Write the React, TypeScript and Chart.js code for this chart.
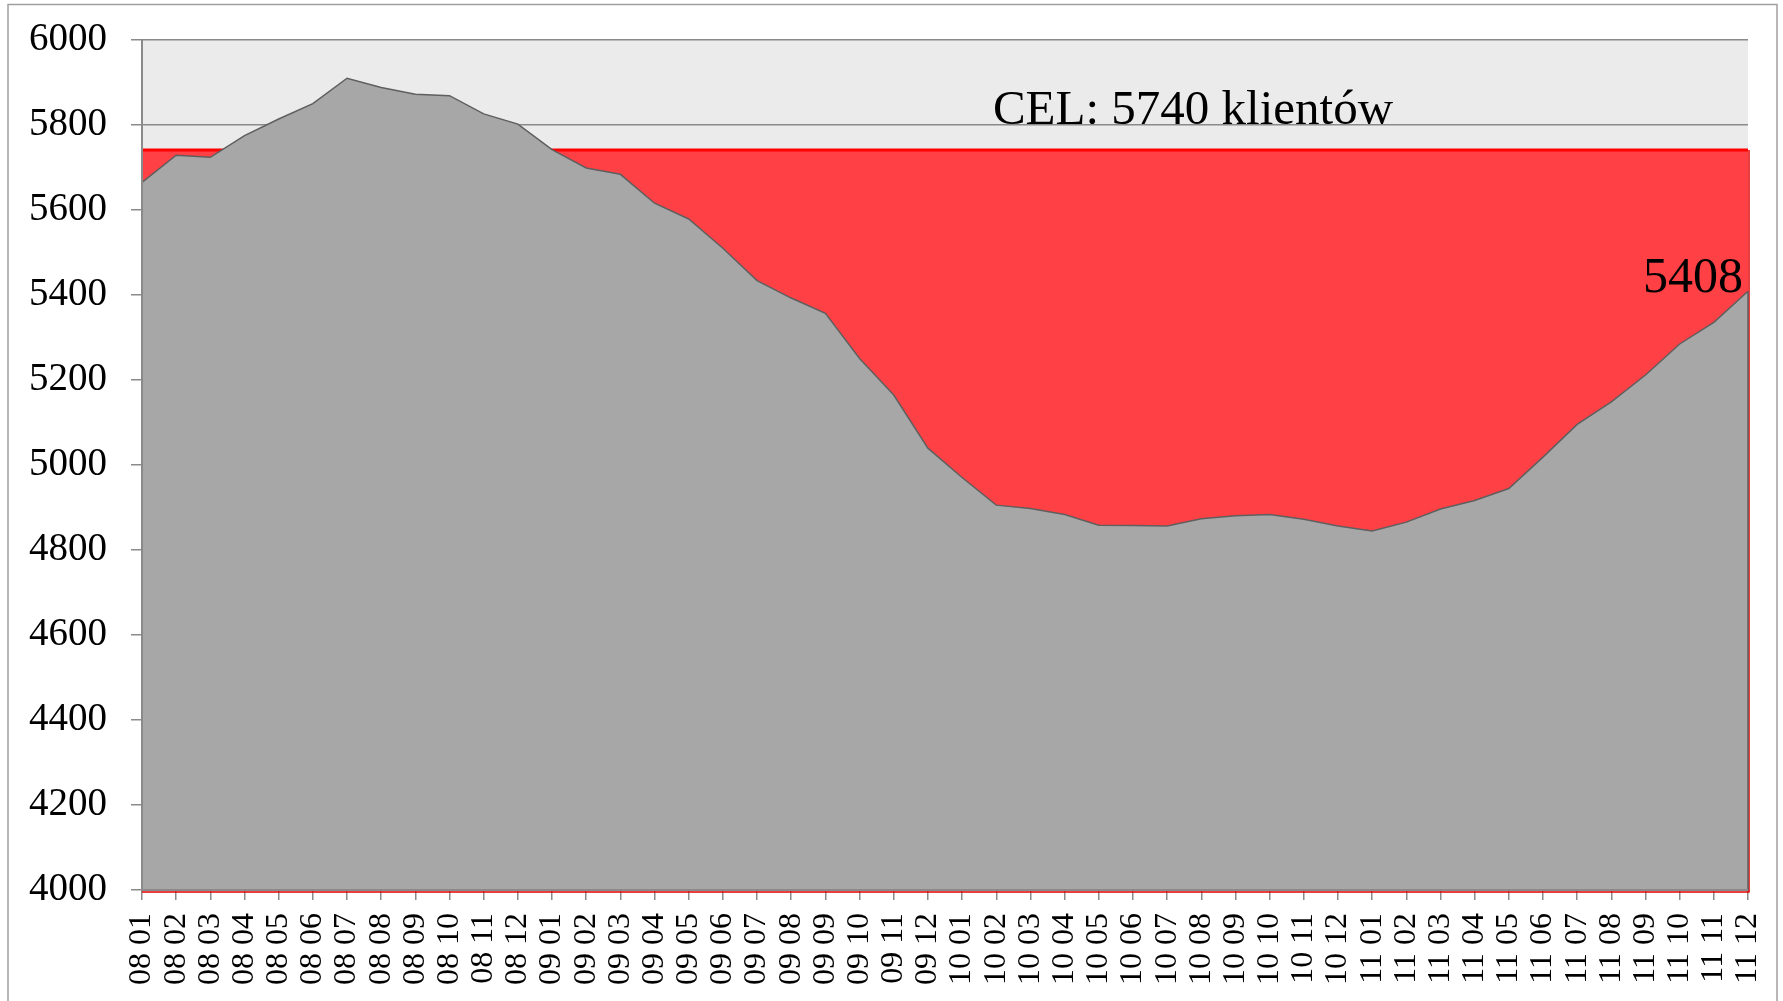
import React, { useEffect, useRef } from 'react';
import { Chart, registerables } from 'chart.js';

Chart.register(...registerables);

const categories: string[] = [
  '08 01', '08 02', '08 03', '08 04', '08 05', '08 06', '08 07', '08 08', '08 09', '08 10', '08 11', '08 12',
  '09 01', '09 02', '09 03', '09 04', '09 05', '09 06', '09 07', '09 08', '09 09', '09 10', '09 11', '09 12',
  '10 01', '10 02', '10 03', '10 04', '10 05', '10 06', '10 07', '10 08', '10 09', '10 10', '10 11', '10 12',
  '11 01', '11 02', '11 03', '11 04', '11 05', '11 06', '11 07', '11 08', '11 09', '11 10', '11 11', '11 12',
];

const clients: number[] = [
  5664, 5728, 5723, 5774, 5813, 5849, 5909, 5887, 5871, 5868, 5825, 5801,
  5741, 5698, 5683, 5615, 5578, 5509, 5433, 5392, 5356, 5250, 5164, 5039,
  4970, 4905, 4897, 4883, 4858, 4857, 4856, 4873, 4880, 4883, 4872, 4856,
  4844, 4865, 4896, 4916, 4944, 5018, 5095, 5148, 5211, 5284, 5335, 5408,
];

const TARGET = 5740;
const targetLine: number[] = categories.map(() => TARGET);

const Y_MIN = 4000;
const Y_MAX = 6000;
const Y_STEP = 200;

const targetText = `CEL: ${TARGET} klientów`;

const FONT = '"Liberation Serif", "DejaVu Serif", serif';

const decorPlugin = {
  id: 'decor',
  beforeDraw(chart: any) {
    const { ctx, chartArea } = chart;
    ctx.save();
    ctx.fillStyle = '#ffffff';
    ctx.fillRect(0, 0, chart.width, chart.height);
    ctx.strokeStyle = '#a0a0a0';
    ctx.lineWidth = 1.5;
    ctx.strokeRect(8, 4.5, chart.width - 14, chart.height + 10);
    ctx.fillStyle = '#ebebeb';
    ctx.fillRect(chartArea.left, chartArea.top, chartArea.right - chartArea.left, chartArea.bottom - chartArea.top);
    ctx.restore();
  },
  afterDatasetDraw(chart: any, args: any) {
    const { ctx, chartArea } = chart;
    const pts = args.meta.data;
    if (!pts || !pts.length) return;
    const last = pts[pts.length - 1];
    const bottom = chartArea.bottom;
    ctx.save();
    if (args.index === 1) {
      ctx.strokeStyle = '#e00000';
      ctx.lineWidth = 1.5;
      ctx.beginPath();
      ctx.moveTo(last.x + 1, last.y);
      ctx.lineTo(last.x + 1, bottom + 2);
      ctx.lineTo(pts[0].x, bottom + 2);
      ctx.stroke();
    } else {
      ctx.strokeStyle = '#5f5f5f';
      ctx.lineWidth = 1.5;
      ctx.beginPath();
      ctx.moveTo(last.x, last.y);
      ctx.lineTo(last.x, bottom);
      ctx.stroke();
    }
    ctx.restore();
  },
  afterDatasetsDraw(chart: any) {
    const { ctx, chartArea, scales } = chart;
    ctx.save();
    ctx.strokeStyle = '#8a8a8a';
    ctx.lineWidth = 2;
    ctx.beginPath();
    ctx.moveTo(chartArea.left, chartArea.top);
    ctx.lineTo(chartArea.left, chartArea.bottom);
    ctx.lineTo(chartArea.right, chartArea.bottom);
    ctx.stroke();

    ctx.fillStyle = '#000000';
    ctx.font = `49px ${FONT}`;
    ctx.textAlign = 'center';
    ctx.textBaseline = 'alphabetic';
    const tx = chartArea.left + 0.6544 * (chartArea.right - chartArea.left);
    ctx.fillText(targetText, tx, scales.y.getPixelForValue(5800) - 0.5);

    const meta = chart.getDatasetMeta(0);
    const lp = meta.data[meta.data.length - 1];
    ctx.font = `50px ${FONT}`;
    ctx.textAlign = 'right';
    ctx.fillText(String(clients[clients.length - 1]), lp.x - 5, lp.y + 1);
    ctx.restore();
  },
};

export default function App() {
  const canvasRef = useRef<HTMLCanvasElement | null>(null);

  useEffect(() => {
    document.body.style.margin = '0';
    document.body.style.overflow = 'hidden';
    const canvas = canvasRef.current;
    if (!canvas) return;
    const chart = new Chart(canvas, {
      type: 'line',
      data: {
        labels: categories,
        datasets: [
          {
            label: 'Klienci',
            data: clients,
            borderColor: '#5f5f5f',
            borderWidth: 1.5,
            backgroundColor: '#a7a7a7',
            fill: 'start',
            pointRadius: 0,
            tension: 0,
            order: 1,
          },
          {
            label: 'Cel',
            data: targetLine,
            borderColor: '#ff0000',
            borderWidth: 3,
            backgroundColor: '#ff4044',
            fill: 'start',
            pointRadius: 0,
            tension: 0,
            order: 2,
          },
        ],
      },
      options: {
        responsive: false,
        animation: false,
        devicePixelRatio: 1,
        events: [],
        layout: { padding: { left: 0, top: 39.5, right: 35, bottom: 0 } },
        plugins: {
          legend: { display: false },
          tooltip: { enabled: false },
        },
        scales: {
          x: {
            type: 'category',
            offset: false,
            afterFit: (scale: any) => {
              scale.height = 111;
              scale.paddingLeft = 0;
              scale.paddingRight = 0;
              scale.paddingTop = 0;
              scale.paddingBottom = 0;
            },
            grid: {
              drawOnChartArea: false,
              drawTicks: true,
              tickLength: 10,
              color: '#8a8a8a',
              lineWidth: 1.5,
            },
            border: { display: true, color: '#8a8a8a', width: 2 },
            ticks: {
              autoSkip: false,
              minRotation: 90,
              maxRotation: 90,
              padding: 13,
              color: '#000000',
              font: { family: FONT, size: 32 },
            },
          },
          y: {
            min: Y_MIN,
            max: Y_MAX,
            afterFit: (scale: any) => {
              scale.width = 142;
              scale.paddingLeft = 0;
              scale.paddingRight = 0;
              scale.paddingTop = 0;
              scale.paddingBottom = 0;
            },
            grid: {
              color: '#8a8a8a',
              lineWidth: 1.5,
              tickLength: 11,
              drawTicks: true,
            },
            border: { display: true, color: '#8a8a8a', width: 2 },
            ticks: {
              stepSize: Y_STEP,
              padding: 24,
              color: '#000000',
              font: { family: FONT, size: 39 },
              callback: (v: any) => String(v),
            },
          },
        },
      },
      plugins: [decorPlugin],
    });
    return () => chart.destroy();
  }, []);

  return (
    <div style={{ width: 1783, height: 1001 }}>
      <canvas ref={canvasRef} width={1783} height={1001} style={{ display: 'block' }} />
    </div>
  );
}
